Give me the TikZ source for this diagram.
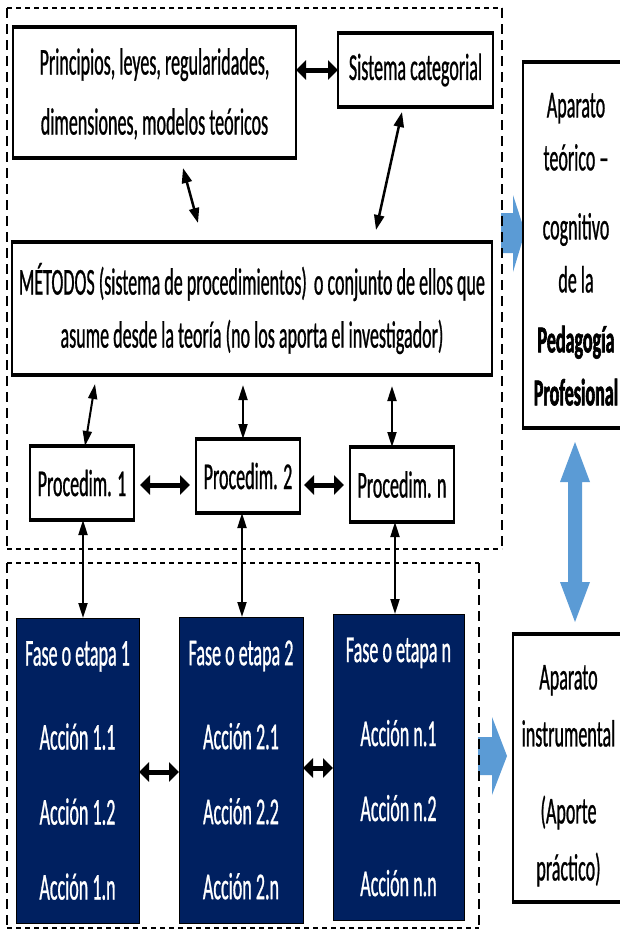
\documentclass[tikz,border=0pt]{standalone}
\usepackage{fontspec}
\setmainfont{Carlito}[FakeStretch=0.475, UprightFeatures={FakeBold=0.7}, BoldFeatures={FakeBold=1.5}]
\usetikzlibrary{arrows.meta}
\definecolor{navy}{HTML}{002060}
\definecolor{oblue}{HTML}{5B9BD5}
\tikzset{
  wbox/.style={draw=black, line width=2.5pt, fill=white, inner sep=0pt, outer sep=0pt, align=center},
  fbox/.style={draw=black, line width=1pt, fill=navy, text=white, inner sep=0pt, outer sep=0pt, align=center,
    font=\fontsize{38pt}{75pt}\selectfont},
  harr/.style={line width=5pt, {Triangle[length=10pt,width=19pt]}-{Triangle[length=10pt,width=19pt]}},
  varr/.style={line width=2pt, {Triangle[length=15pt,width=9pt]}-{Triangle[length=15pt,width=9pt]}},
  darr/.style={line width=2.5pt, {Triangle[length=15pt,width=10pt]}-{Triangle[length=15pt,width=10pt]}},
  hdash/.style={line width=2.5pt, dash pattern=on 5pt off 4pt},
  vdash/.style={line width=1.5pt, dash pattern=on 10pt off 6pt},
  bluearrow/.style={fill=oblue},
}
\begin{document}
\begin{tikzpicture}[x=1pt,y=-1pt]
\useasboundingbox (0,0) rectangle (620,930);
\clip (0,0) rectangle (620,930);
\fill[white] (0,0) rectangle (620,930);
% blue arrows
\fill[bluearrow] (501,213) -- (513,213) -- (513,195) -- (525,232) -- (513,272) -- (513,253) -- (501,253) -- cycle;
\fill[bluearrow] (478,737) -- (492,737) -- (492,717) -- (507,756) -- (492,795) -- (492,775) -- (478,775) -- cycle;
\fill[bluearrow] (575,442) -- (590,482) -- (582,482) -- (582,582) -- (590,582) -- (575,622) -- (560,582) -- (568,582) -- (568,482) -- (560,482) -- cycle;
% dashed frames
\draw[hdash] (7,8) -- (502,8);
\draw[hdash] (7,549) -- (502,549);
\draw[vdash] (7,8) -- (7,549);
\draw[vdash] (502,8) -- (502,549);
\draw[hdash] (7,563) -- (479,563);
\draw[hdash] (7,928) -- (479,928);
\draw[vdash] (7,563) -- (7,928);
\draw[vdash] (479,563) -- (479,928);
% white boxes
\node[wbox, minimum width=283pt, minimum height=131pt, font=\fontsize{38pt}{60pt}\selectfont] (princ) at (154.5,92.5)
  {\rule{0pt}{29pt}Principios, leyes, regularidades,\\dimensiones, modelos teóricos};
\node[wbox, minimum width=155pt, minimum height=74pt, font=\fontsize{38pt}{43pt}\selectfont] (sist) at (415.5,70)
  {Sistema categorial};
\node[wbox, minimum width=106pt, minimum height=366pt, font=\fontsize{38pt}{53pt}\selectfont] (apt) at (576,245)
  {\rule{0pt}{33pt}Aparato\\teórico –\\[16pt]cognitivo\\de la\\[7pt]\textbf{Pedagogía}\\\textbf{Profesional}};
\node[wbox, minimum width=480pt, minimum height=133pt, font=\fontsize{38pt}{53pt}\selectfont] (met) at (252,308.5)
  {MÉTODOS (sistema de procedimientos)\kern3pt{} o conjunto de ellos que\\asume desde la teoría (no los aporta el investigador)};
\node[wbox, minimum width=104pt, minimum height=74pt, font=\fontsize{38pt}{43pt}\selectfont] (p1) at (82,483) {Procedim. 1};
\node[wbox, minimum width=104pt, minimum height=74pt, font=\fontsize{38pt}{43pt}\selectfont] (p2) at (248,476) {Procedim. 2};
\node[wbox, minimum width=104pt, minimum height=75pt, font=\fontsize{38pt}{43pt}\selectfont] (pn) at (402,484.5) {Procedim. n};
\node[wbox, minimum width=111pt, minimum height=268pt, font=\fontsize{38pt}{57pt}\selectfont] (apins) at (568.5,768)
  {\rule{0pt}{40pt}Aparato\\instrumental\\[20pt](Aporte\\práctico)};
% heavier top and bottom edges
\foreach \n in {princ,sist,apt,met,p1,p2,pn,apins}{
  \draw[line width=4.5pt] ([xshift=-1.25pt]\n.north west) -- ([xshift=1.25pt]\n.north east)
                          ([xshift=-1.25pt]\n.south west) -- ([xshift=1.25pt]\n.south east);
}
% dark phase boxes
\node[fbox, minimum width=123pt, minimum height=305pt] (f1) at (77.5,770.5)
  {Fase o etapa 1\\[9pt]Acción 1.1\\Acción 1.2\\Acción 1.n};
\node[fbox, minimum width=124pt, minimum height=306pt] (f2) at (241,770)
  {Fase o etapa 2\\[9pt]Acción 2.1\\Acción 2.2\\Acción 2.n};
\node[fbox, minimum width=131pt, minimum height=306pt] (fn) at (398.5,767)
  {Fase o etapa n\\[9pt]Acción n.1\\Acción n.2\\Acción n.n};
% free connector ends
\coordinate (pmA) at (183,168);
\coordinate (pmB) at (198,223);
\coordinate (smA) at (402,112);
\coordinate (smB) at (376,230);
\coordinate (m1) at (95,384);
\coordinate (m2) at (243,385);
\coordinate (m3) at (392,386);
% connectors
\draw[harr] (sist.west) -- (sist.west -| princ.east);
\draw[darr] (pmA) -- (pmB);
\draw[darr] (smA) -- (smB);
\draw[varr] (m1) -- (85,0 |- p1.north);
\draw[varr] (m2) -- (243,0 |- p2.north);
\draw[varr] (m3) -- (392,0 |- pn.north);
\draw[harr, shorten <=6pt, shorten >=6pt] (p1.east |- 0,485) -- (p2.west |- 0,485);
\draw[harr, shorten <=4pt, shorten >=6pt] (p2.east |- 0,485) -- (pn.west |- 0,485);
\draw[varr] (83,0 |- p1.south) -- (83,0 |- f1.north);
\draw[varr] (242,0 |- p2.south) -- (242,0 |- f2.north);
\draw[varr] (395,0 |- pn.south) -- (395,0 |- fn.north);
\draw[harr] (f1.east |- 0,772) -- (f2.west |- 0,772);
\draw[harr] (f2.east |- 0,768) -- (fn.west |- 0,768);
\end{tikzpicture}
\end{document}
